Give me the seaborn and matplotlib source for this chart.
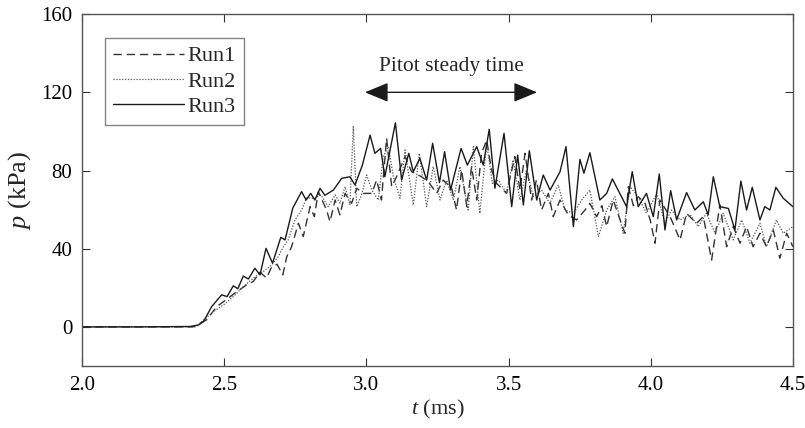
import numpy as np
import pandas as pd
import matplotlib
matplotlib.use("Agg")
import matplotlib.pyplot as plt
import seaborn as sns

# dati: tempo (ms) e pressione (kPa) per ogni prova
t_run1 = [2.0, 2.2, 2.39, 2.438, 2.474, 2.514, 2.544, 2.579, 2.602, 2.626,
          2.649, 2.667, 2.686, 2.706, 2.720, 2.737, 2.761, 2.778, 2.802, 2.817,
          2.831, 2.860, 2.872, 2.890, 2.907, 2.925, 2.948, 2.966, 2.989, 3.019,
          3.036, 3.053, 3.071, 3.089, 3.106, 3.136, 3.159, 3.194, 3.218, 3.247,
          3.270, 3.300, 3.317, 3.335, 3.353, 3.370, 3.388, 3.405, 3.423, 3.440,
          3.458, 3.493, 3.522, 3.540, 3.558, 3.581, 3.598, 3.616, 3.640, 3.657,
          3.681, 3.710, 3.739, 3.769, 3.786, 3.810, 3.828, 3.845, 3.868, 3.892,
          3.909, 3.921, 3.939, 3.956, 3.980, 3.998, 4.015, 4.032, 4.068, 4.103,
          4.126, 4.161, 4.185, 4.214, 4.243, 4.267, 4.290, 4.314, 4.337, 4.360,
          4.384, 4.407, 4.431, 4.454, 4.478, 4.50]
p_run1 = [0.0, 0.0, 0.0, 3.6, 10.4, 14.7, 18.0, 21.5, 23.2, 28.0,
          25.0, 30.8, 32.0, 26.6, 35.9, 41.0, 53.0, 46.2, 61.5, 56.4,
          69.2, 59.8, 53.8, 64.9, 57.3, 68.3, 63.2, 70.9, 68.3, 68.3,
          75.1, 64.9, 96.5, 71.7, 76.8, 87.1, 79.4, 76.8, 74.3, 68.3,
          75.1, 70.9, 59.8, 80.3, 61.5, 82.0, 64.9, 88.8, 95.6, 80.3,
          73.4, 68.3, 87.1, 70.0, 88.8, 64.9, 75.1, 59.8, 68.3, 56.4,
          64.9, 57.3, 54.7, 59.8, 63.2, 56.4, 62.0, 51.3, 64.9, 54.7,
          47.9, 71.7, 62.0, 66.6, 63.2, 54.7, 42.8, 64.9, 56.4, 44.5,
          58.0, 53.0, 56.4, 34.2, 62.4, 41.0, 51.3, 42.8, 51.3, 41.0,
          47.9, 41.0, 49.6, 35.1, 47.9, 41.0]

t_run2 = [2.0, 2.2, 2.40, 2.462, 2.497, 2.532, 2.567, 2.602, 2.637, 2.667,
          2.690, 2.708, 2.725, 2.749, 2.772, 2.790, 2.819, 2.840, 2.866, 2.890,
          2.907, 2.925, 2.942, 2.954, 2.966, 2.983, 3.001, 3.019, 3.042, 3.059,
          3.077, 3.095, 3.118, 3.136, 3.165, 3.186, 3.212, 3.235, 3.259, 3.282,
          3.306, 3.329, 3.358, 3.376, 3.399, 3.423, 3.443, 3.464, 3.493, 3.516,
          3.540, 3.563, 3.587, 3.616, 3.645, 3.675, 3.698, 3.728, 3.757, 3.786,
          3.816, 3.845, 3.874, 3.903, 3.927, 3.956, 3.985, 4.021, 4.050, 4.073,
          4.103, 4.138, 4.167, 4.196, 4.226, 4.255, 4.290, 4.320, 4.349, 4.384,
          4.407, 4.442, 4.466, 4.50]
p_run2 = [0.0, 0.0, 0.0, 7.8, 11.2, 15.5, 20.6, 24.9, 28.3, 31.7,
          35.9, 41.0, 44.5, 54.7, 59.8, 66.0, 65.8, 67.5, 61.5, 67.5,
          63.2, 71.7, 62.4, 102.8, 61.5, 67.5, 77.7, 70.0, 64.9, 87.1,
          92.2, 76.8, 65.8, 90.5, 62.4, 88.8, 61.5, 82.0, 64.9, 75.1,
          64.9, 82.0, 59.8, 92.2, 58.1, 93.9, 73.4, 75.1, 68.3, 85.4,
          64.9, 80.3, 66.6, 70.0, 63.2, 72.6, 59.8, 58.1, 64.9, 70.0,
          46.2, 59.8, 66.6, 47.9, 71.7, 66.6, 58.1, 68.3, 53.0, 59.8,
          54.7, 57.5, 51.3, 58.1, 47.9, 58.1, 44.5, 54.7, 42.8, 53.0,
          41.0, 54.7, 47.9, 51.3]

t_run3 = [2.0, 2.2, 2.38, 2.41, 2.427, 2.456, 2.491, 2.51, 2.532, 2.548,
          2.567, 2.585, 2.608, 2.626, 2.647, 2.670, 2.699, 2.714, 2.741, 2.772,
          2.788, 2.804, 2.819, 2.837, 2.854, 2.884, 2.913, 2.942, 2.960, 2.986,
          3.013, 3.030, 3.050, 3.065, 3.102, 3.124, 3.149, 3.165, 3.188, 3.212,
          3.233, 3.257, 3.275, 3.296, 3.333, 3.355, 3.388, 3.411, 3.432, 3.452,
          3.484, 3.511, 3.532, 3.552, 3.573, 3.599, 3.622, 3.646, 3.681, 3.702,
          3.728, 3.751, 3.765, 3.786, 3.821, 3.845, 3.865, 3.915, 3.935, 3.956,
          3.985, 4.009, 4.030, 4.050, 4.070, 4.091, 4.126, 4.155, 4.185, 4.202,
          4.220, 4.243, 4.273, 4.296, 4.317, 4.337, 4.357, 4.384, 4.401, 4.419,
          4.440, 4.466, 4.50]
p_run3 = [0.0, 0.0, 0.2, 1.0, 2.7, 10.4, 16.4, 15.5, 21.0, 19.5,
          26.0, 24.5, 30.0, 26.6, 40.2, 32.6, 45.8, 44.5, 60.7, 69.2,
          64.9, 68.3, 64.9, 70.9, 67.3, 70.0, 76.0, 76.8, 72.6, 82.8,
          98.1, 88.8, 91.3, 76.8, 104.4, 75.1, 88.8, 79.4, 86.2, 75.1,
          93.9, 73.8, 89.6, 70.0, 91.3, 82.8, 92.2, 82.8, 101.1, 70.9,
          99.0, 61.5, 87.9, 62.4, 90.1, 64.9, 77.7, 70.0, 79.4, 92.2,
          51.3, 85.7, 78.6, 89.1, 64.9, 68.3, 75.7, 61.5, 79.4, 61.5,
          68.3, 56.4, 78.2, 49.6, 69.7, 54.7, 68.7, 59.8, 64.0, 57.3,
          76.8, 61.5, 60.6, 49.6, 74.6, 59.8, 71.4, 54.7, 61.5, 59.8,
          71.4, 65.8, 61.5]

run_names = ["Run1", "Run2", "Run3"]
x_ticks = [2.0, 2.5, 3.0, 3.5, 4.0, 4.5]
y_ticks = [0, 40, 80, 120, 160]
arrow_span = [2.995, 3.60]
arrow_level = 120
label_text = "Pitot steady time"

sns.set_style("ticks")
plt.rcParams['font.family'] = ['Liberation Serif', 'DejaVu Serif']
plt.rcParams['mathtext.fontset'] = 'custom'
plt.rcParams['mathtext.it'] = 'Liberation Serif:italic'
plt.rcParams['mathtext.rm'] = 'Liberation Serif'

fig = plt.figure(figsize=(8.05, 4.28), dpi=100)
ax = fig.add_axes([0.1019, 0.1449, 0.8831, 0.8221])

stili = [
    dict(color="#333333", linewidth=1.0, dashes=(6, 3.5)),
    dict(color="#555555", linewidth=0.9, dashes=(1, 1.3)),
    dict(color="#1a1a1a", linewidth=1.0),
]
dati = [(t_run1, p_run1), (t_run2, p_run2), (t_run3, p_run3)]
for (tt, pp), nome, st in zip(dati, run_names, stili):
    df = pd.DataFrame({"t": tt, "p": pp})
    line_kw = dict(st)
    d = line_kw.pop("dashes", None)
    sns.lineplot(data=df, x="t", y="p", ax=ax, sort=False, label=nome,
                 estimator=None, **line_kw)
    if d is not None:
        ax.lines[-1].set_dashes(d)

ax.set_xlim(2.0, 4.5)
ax.set_ylim(-20, 160)
ax.set_xticks(x_ticks)
ax.set_xticklabels([f"{v:.1f}" for v in x_ticks])
ax.set_yticks(y_ticks)
ax.tick_params(direction="in", length=6, width=0.8, labelsize=15,
               top=True, right=True, colors="#333333", labelcolor="black", pad=7)
for s in ax.spines.values():
    s.set_color("#555555")
    s.set_linewidth(1.0)

ax.set_xlabel("$t$ (ms)", fontsize=16, labelpad=2)
ax.set_ylabel("$p$ (kPa)", fontsize=19, labelpad=6)

leg = ax.legend(loc="upper left", bbox_to_anchor=(0.033, 0.932), fontsize=16,
                frameon=True, fancybox=False, handlelength=3.2, handletextpad=0.15,
                borderpad=0.35, labelspacing=0.22, borderaxespad=0)
leg.get_frame().set_edgecolor("#666666")
leg.get_frame().set_linewidth(1.0)

ax.annotate("", xy=(arrow_span[0], arrow_level), xytext=(arrow_span[1], arrow_level),
            arrowprops=dict(arrowstyle="<|-|>,head_length=1.45,head_width=0.6",
                            color="#1a1a1a", lw=1.0, shrinkA=0, shrinkB=0))
ax.text(sum(arrow_span) / 2, 133, label_text, ha="center", va="center", fontsize=15.5)

fig.savefig("out.png", dpi=100)
